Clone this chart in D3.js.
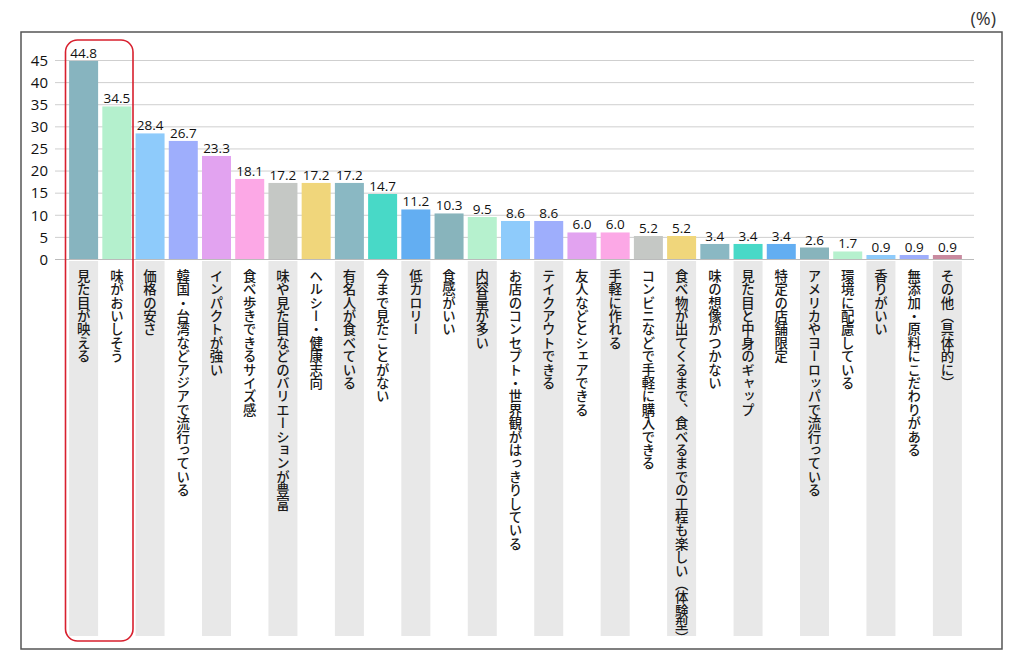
<!DOCTYPE html>
<html><head><meta charset="utf-8">
<script src="https://cdn.jsdelivr.net/npm/d3@7"></script>
<style>
html,body{margin:0;padding:0;background:#fff;}
svg{display:block;}
.vl{writing-mode:vertical-rl;}
</style>
</head><body>
<svg id="c" width="1024" height="663"></svg>
<script>
const categories = [
 "見た目が映える","味がおいしそう","価格の安さ","韓国・台湾などアジアで流行っている","インパクトが強い",
 "食べ歩きできるサイズ感","味や見た目などのバリエーションが豊富","ヘルシー・健康志向","有名人が食べている",
 "今まで見たことがない","低カロリー","食感がいい","内容量が多い","お店のコンセプト・世界観がはっきりしている",
 "テイクアウトできる","友人などとシェアできる","手軽に作れる","コンビニなどで手軽に購入できる",
 "食べ物が出てくるまで、食べるまでの工程も楽しい（体験型）","味の想像がつかない","見た目と中身のギャップ",
 "特定の店舗限定","アメリカやヨーロッパで流行っている","環境に配慮している","香りがいい",
 "無添加・原料にこだわりがある","その他（具体的に）"
];
const values = [44.8,34.5,28.4,26.7,23.3,18.1,17.2,17.2,17.2,14.7,11.2,10.3,9.5,8.6,8.6,6.0,6.0,5.2,5.2,3.4,3.4,3.4,2.6,1.7,0.9,0.9,0.9];
const colors = ["#87b4bf","#b4f0cd","#8ecbfb","#9eaefc","#e2a3f0","#fca8e6","#c5c8c5","#f0d67b","#8ab8c3","#48d9c7","#63aef2",
 "#88b4bc","#b6f1ce","#8ecbfb","#9eaefc","#e2a3f0","#fca8e6","#c5c8c5","#f0d67b","#8ab8c3","#48d9c7","#63aef2",
 "#88b4bc","#b6f1ce","#8ecbfb","#9eaefc","#c98a9f"];
const yTicks = [0,5,10,15,20,25,30,35,40,45];

const svg = d3.select("#c");
const x = d3.scaleBand().domain(d3.range(categories.length)).range([67,964]).paddingInner(0.127).paddingOuter(0.0635);
const y = d3.scaleLinear().domain([0,45]).range([259,60]);

// frame
svg.append("rect").attr("x",21).attr("y",32).attr("width",981).attr("height",617)
  .attr("fill","none").attr("stroke","#555").attr("stroke-width",1.5);

// unit
svg.append("text").attr("x",996).attr("y",25).attr("text-anchor","end")
  .attr("font-family","Open Sans, Noto Sans CJK JP").attr("font-size",18).attr("fill","#333").text("(%)");

// label bands
svg.append("g").selectAll("rect").data(categories).join("rect")
  .attr("x",(d,i)=>x(i)).attr("width",x.bandwidth())
  .attr("y",261).attr("height",375)
  .attr("fill",(d,i)=> i%2===0 ? "#e8e8e8" : "#fff");

// grid + axis
const yAxis = d3.axisLeft(y).tickValues(yTicks).tickSize(0).tickPadding(0).tickFormat(d3.format("d"));
const gAxis = svg.append("g").attr("transform","translate(48,0)").call(yAxis);
gAxis.select(".domain").remove();
gAxis.selectAll("text").attr("font-family","Open Sans, Noto Sans").attr("font-size",15).attr("fill","#111").attr("dy","0.35em");
svg.append("g").selectAll("line").data(yTicks).join("line")
  .attr("x1",55).attr("x2",974).attr("y1",d=>y(d)+0.5).attr("y2",d=>y(d)+0.5)
  .attr("stroke",d=>d===0?"#bbb":"#cfcfcf").attr("stroke-width",1);

// bars
svg.append("g").selectAll("rect").data(values).join("rect")
  .attr("x",(d,i)=>x(i)).attr("width",x.bandwidth())
  .attr("y",d=>y(d)).attr("height",d=>y(0)-y(d))
  .attr("fill",(d,i)=>colors[i]);

// values
svg.append("g").selectAll("text").data(values).join("text")
  .attr("x",(d,i)=>x(i)+x.bandwidth()/2).attr("y",d=>y(d)-3)
  .attr("text-anchor","middle").attr("font-family","Open Sans, Noto Sans").attr("font-size",13.5).attr("fill","#111")
  .text(d=>d3.format(".1f")(d));

// category labels (vertical)
svg.append("g").selectAll("text").data(categories).join("text")
  .attr("class","vl")
  .attr("x",(d,i)=>x(i)+x.bandwidth()/2).attr("y",269)
  .attr("font-family","Noto Sans CJK JP").attr("font-weight",500).attr("font-size",13.4).attr("fill","#1a1a1a")
  .text(d=>d);

// highlight
svg.append("rect").attr("x",65.5).attr("y",40).attr("width",67.5).attr("height",601).attr("rx",12)
  .attr("fill","none").attr("stroke","#d8202e").attr("stroke-width",1.6);
</script>
</body></html>
